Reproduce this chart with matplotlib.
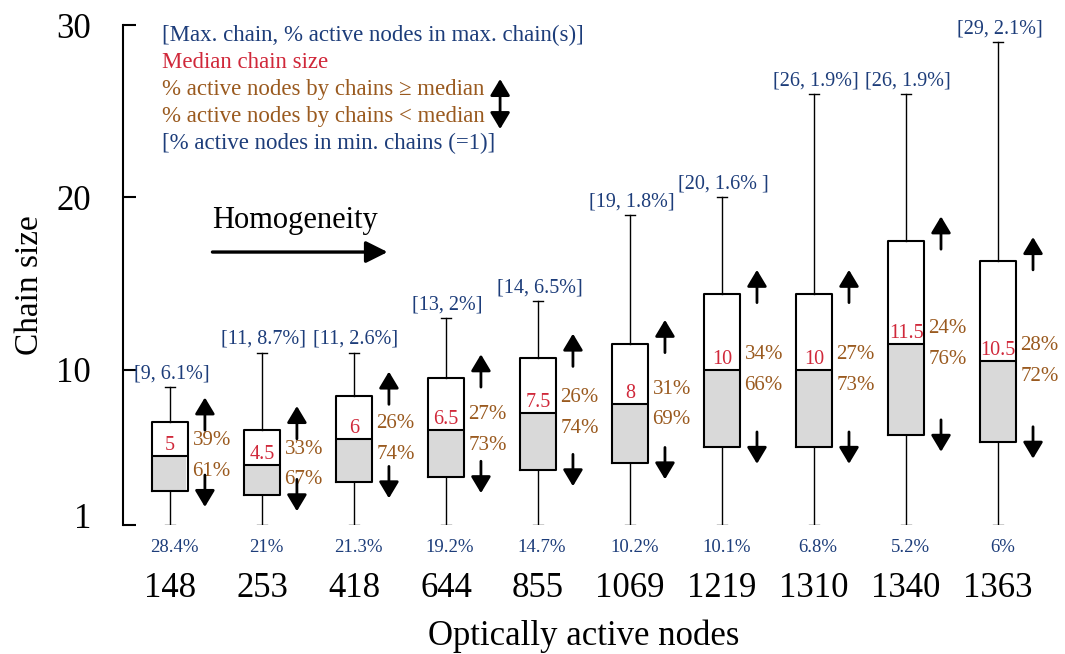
import numpy as np
import matplotlib
matplotlib.use("Agg")
import matplotlib.pyplot as plt
from matplotlib.transforms import ScaledTranslation

plt.rcParams['font.family'] = ['Liberation Serif', 'DejaVu Serif']

# data
nodes = ['148', '253', '418', '644', '855', '1069', '1219', '1310', '1340', '1363']
chain_min = [1, 1, 1, 1, 1, 1, 1, 1, 1, 1]
q1 = [3.0, 2.75, 3.5, 3.8, 4.2, 4.6, 5.5, 5.5, 6.2, 5.8]
median = [5, 4.5, 6, 6.5, 7.5, 8, 10, 10, 11.5, 10.5]
q3 = [7.0, 6.5, 8.5, 9.5, 10.7, 11.5, 14.4, 14.4, 17.5, 16.3]
chain_max = [9, 11, 11, 13, 14, 19, 20, 26, 26, 29]
pct_in_max = ['6.1%', '8.7%', '2.6%', '2%', '6.5%', '1.8%', '1.6% ', '1.9%', '1.9%', '2.1%']
pct_above = ['39%', '33%', '26%', '27%', '26%', '31%', '34%', '27%', '24%', '28%']
pct_below = ['61%', '67%', '74%', '73%', '74%', '69%', '66%', '73%', '76%', '72%']
pct_in_min = ['28.4%', '21%', '21.3%', '19.2%', '14.7%', '10.2%', '10.1%', '6.8%', '5.2%', '6%']

legend_lines = ['[Max. chain, % active nodes in max. chain(s)]',
                'Median chain size',
                '% active nodes by chains \u2265 median',
                '% active nodes by chains < median',
                '[% active nodes in min. chains (=1)]']

BLUE = '#1d3d7a'
RED = '#d0283a'
BROWN = '#9a5a1f'
ARROW = '-|>,head_length=0.5,head_width=0.3'

fig = plt.figure(figsize=(10.65, 6.54), dpi=100)
ax = fig.add_axes([0.1155, 0.1972, 0.8657, 0.7645])

pos = np.arange(len(nodes))
stats = []
for i in range(len(nodes)):
    stats.append(dict(whislo=chain_min[i], q1=q1[i], med=median[i], q3=q3[i],
                      whishi=chain_max[i], fliers=[]))

# grey part of the box (q1 -> median)
ax.bar(pos, np.array(median) - np.array(q1), bottom=q1, width=0.36,
       color='#d9d9d9', zorder=1)

ax.bxp(stats, positions=pos, widths=0.4, showfliers=False,
       boxprops=dict(color='black', linewidth=1.5),
       medianprops=dict(color='black', linewidth=1.5),
       whiskerprops=dict(color='black', linewidth=1.0),
       capprops=dict(color='black', linewidth=1.0),
       capwidths=0.1, manage_ticks=False, zorder=2)

for i, p in enumerate(pos):
    ax.annotate('[%d, %s]' % (chain_max[i], pct_in_max[i]), (p, chain_max[i]),
                xytext=(1, 9.5), textcoords='offset points', ha='center', va='center',
                fontsize=14.5, color=BLUE)
    ax.annotate('%g' % median[i], (p, median[i]), xytext=(0, 7.5),
                textcoords='offset points', ha='center', va='center',
                fontsize=14.5, color=RED)
    ax.annotate(pct_above[i], (p + 0.2, median[i]), xytext=(3, 11),
                textcoords='offset points', ha='left', va='center',
                fontsize=15, color=BROWN)
    ax.annotate(pct_below[i], (p + 0.2, median[i]), xytext=(3, -11),
                textcoords='offset points', ha='left', va='center',
                fontsize=15, color=BROWN)
    ax.annotate(pct_in_min[i], (p, chain_min[i]), xytext=(3, -16.5),
                textcoords='offset points', ha='center', va='center',
                fontsize=13.5, color=BLUE, annotation_clip=False)
    # up / down arrows next to each box
    ax.annotate('', xy=(p + 0.38, q3[i] + 1.4), xytext=(p + 0.38, q3[i] - 0.5),
                arrowprops=dict(arrowstyle=ARROW, color='black', lw=2,
                                mutation_scale=20, shrinkA=0, shrinkB=0))
    ax.annotate('', xy=(p + 0.38, q1[i] - 0.95), xytext=(p + 0.38, q1[i] + 0.9),
                arrowprops=dict(arrowstyle=ARROW, color='black', lw=2,
                                mutation_scale=20, shrinkA=0, shrinkB=0))

# legend block
legend_colors = [BLUE, RED, BROWN, BROWN, BLUE]
for k, (txt, col) in enumerate(zip(legend_lines, legend_colors)):
    ax.text(0.042, 0.98 - k * 0.054, txt, transform=ax.transAxes, color=col,
            fontsize=16.5, ha='left', va='center')
ax.annotate('', xy=(0.409, 0.892), xytext=(0.409, 0.792), xycoords='axes fraction',
            arrowprops=dict(arrowstyle='<|-|>,head_length=0.5,head_width=0.3',
                            color='black', lw=2, mutation_scale=20, shrinkA=0, shrinkB=0))

ax.text(0.0965, 0.61, 'Homogeneity', transform=ax.transAxes, fontsize=22,
        ha='left', va='center')
ax.annotate('', xy=(0.287, 0.546), xytext=(0.097, 0.546), xycoords='axes fraction',
            arrowprops=dict(arrowstyle='-|>,head_length=0.6,head_width=0.3',
                            color='black', lw=2.4, mutation_scale=22, shrinkA=0, shrinkB=0))

ax.set_xlim(-0.51, 9.51)
ax.set_ylim(1, 30)
ax.set_yticks([1, 10, 20, 30])
ax.set_xticks(pos)
ax.set_xticklabels(nodes)
ax.tick_params(axis='y', direction='in', length=9, width=1.5, pad=23, labelsize=25)
ax.tick_params(axis='x', length=0, pad=34, labelsize=25)
for s in ['top', 'right', 'bottom']:
    ax.spines[s].set_visible(False)
ax.spines['left'].set_linewidth(1.5)

# the "1" label sits a little above its tick in the original
one_lbl = ax.get_yticklabels()[0]
one_lbl.set_transform(one_lbl.get_transform() + ScaledTranslation(0, 7 / 72, fig.dpi_scale_trans))

ax.set_ylabel('Chain size', fontsize=24)
ax.yaxis.set_label_coords(-0.085, 0.48)
ax.set_xlabel('Optically active nodes', fontsize=25, labelpad=10)

fig.savefig('out.png', dpi=100)
